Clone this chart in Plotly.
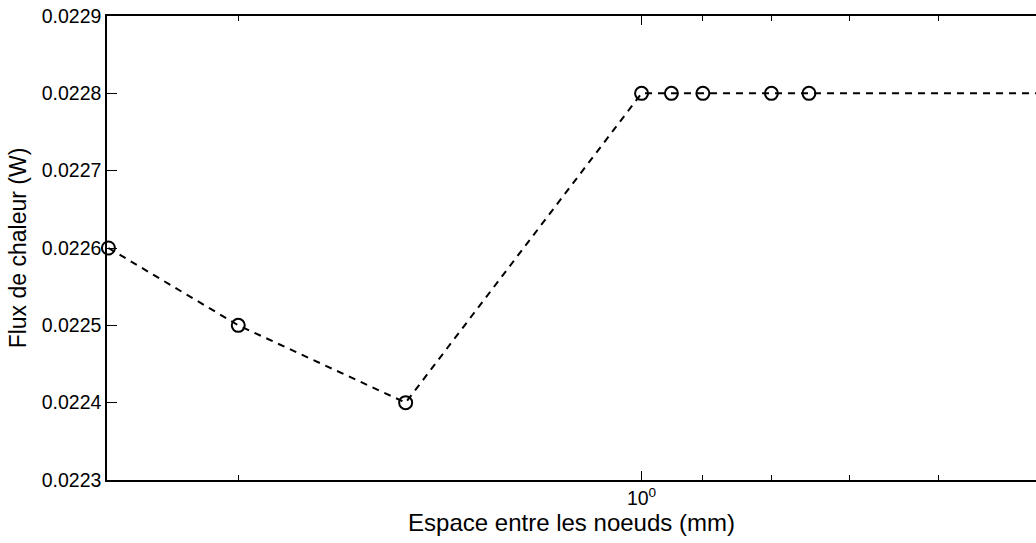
import plotly.graph_objects as go

# espace entre les noeuds (mm) et flux de chaleur (W)
espace = [2.5, 2.0, 1.5, 1.0, 0.95, 0.9, 0.8, 0.75, 0.5]
flux = [0.0226, 0.0225, 0.0224, 0.0228, 0.0228, 0.0228, 0.0228, 0.0228, 0.0228]

y_ticks = [0.0223, 0.0224, 0.0225, 0.0226, 0.0227, 0.0228, 0.0229]
x_major = [1.0]
x_major_text = ["10<sup>0</sup>"]
x_minor = [2.0, 0.9, 0.8, 0.7, 0.6]

fig = go.Figure()
fig.add_trace(go.Scatter(
    x=espace, y=flux, mode="lines+markers",
    line=dict(color="black", width=2, dash="7px,6px"),
    marker=dict(symbol="circle-open", size=13, color="black", line=dict(width=2, color="black")),
    cliponaxis=False, showlegend=False,
))

fig.update_layout(
    width=1036, height=543,
    margin=dict(l=107, r=0, t=16, b=63),
    paper_bgcolor="white", plot_bgcolor="white",
    font=dict(family="Liberation Sans, Arial, sans-serif", color="black", size=19),
)
fig.update_xaxes(
    type="log", range=[0.399, -0.2944], automargin=False,
    tickmode="array", tickvals=x_major, ticktext=x_major_text,
    tickfont=dict(size=19.5),
    ticks="inside", ticklen=9, tickwidth=1, tickcolor="black",
    minor=dict(tickmode="array", tickvals=x_minor, ticks="inside", ticklen=5, tickcolor="black", showgrid=False),
    showline=True, linecolor="black", linewidth=1.5, mirror="allticks",
    showgrid=False, zeroline=False,
    title=dict(text="Espace entre les noeuds (mm)", font=dict(size=24), standoff=0),
)
fig.update_yaxes(
    range=[0.0223, 0.0229], automargin=False,
    tickmode="array", tickvals=y_ticks, tickformat=".4f",
    tickfont=dict(size=19.5),
    ticks="inside", ticklen=10, tickwidth=1, tickcolor="black",
    showline=True, linecolor="black", linewidth=1.5, mirror=False,
    showgrid=False, zeroline=False,
    title=dict(text="Flux de chaleur (W)", font=dict(size=23), standoff=9),
)

# la page ajoute une marge de 8px autour du graphique
fig.write_html("out.html", config={"displayModeBar": False},
               post_script="document.body.style.margin='0';document.body.style.overflow='hidden';")
